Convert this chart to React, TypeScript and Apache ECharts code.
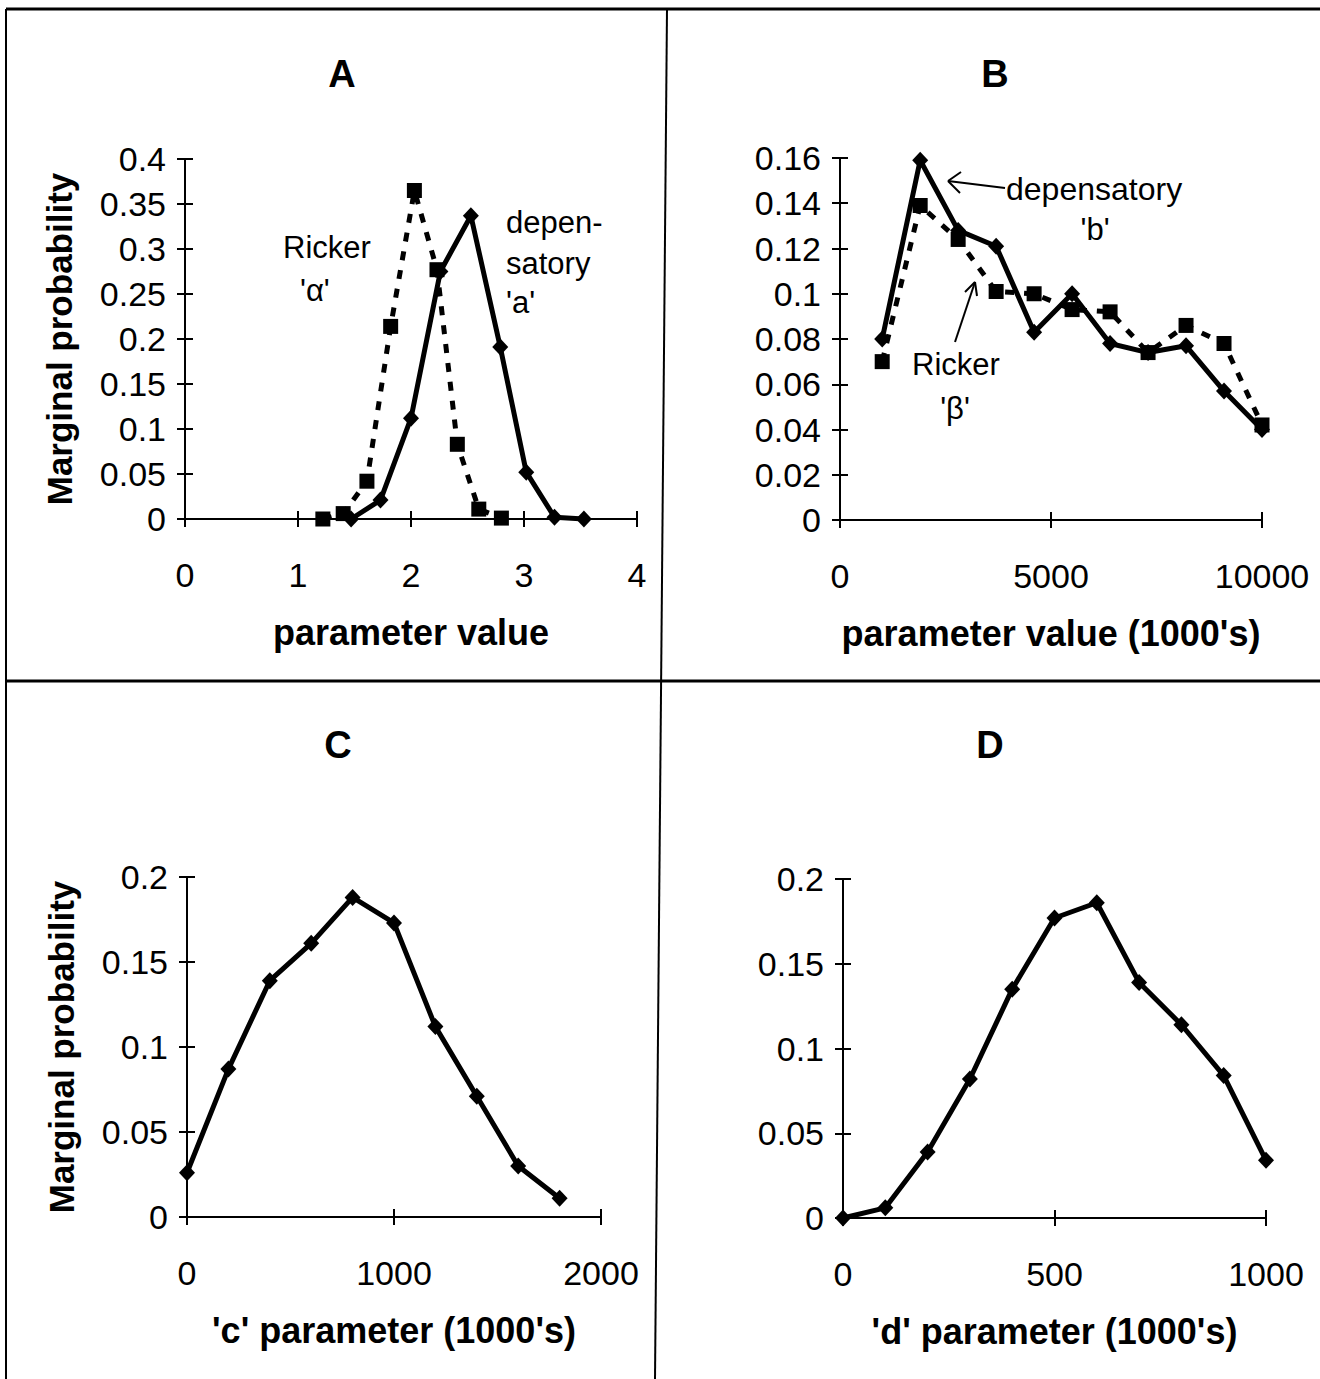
import React, { useEffect, useRef } from "react";
import * as echarts from "echarts";

// ---- data ----
const depAx = [1.47, 1.73, 2.0, 2.26, 2.53, 2.79, 3.02, 3.27, 3.53];
const depAy = [0, 0.021, 0.112, 0.275, 0.337, 0.191, 0.052, 0.002, 0];
const rickAx = [1.22, 1.4, 1.61, 1.82, 2.03, 2.23, 2.41, 2.6, 2.8];
const rickAy = [0, 0.006, 0.042, 0.214, 0.365, 0.277, 0.083, 0.011, 0.001];

const bX = [1000, 1900, 2800, 3700, 4600, 5500, 6400, 7300, 8200, 9100, 10000];
const depBy = [0.08, 0.159, 0.128, 0.121, 0.083, 0.1, 0.078, 0.074, 0.077, 0.057, 0.04];
const rickBy = [0.07, 0.139, 0.124, 0.101, 0.1, 0.093, 0.092, 0.074, 0.086, 0.078, 0.042];

const cX = [0, 200, 400, 600, 800, 1000, 1200, 1400, 1600, 1800];
const cY = [0.026, 0.087, 0.139, 0.161, 0.188, 0.173, 0.112, 0.071, 0.03, 0.011];

const dX = [0, 100, 200, 300, 400, 500, 600, 700, 800, 900, 1000];
const dY = [0, 0.006, 0.039, 0.082, 0.135, 0.177, 0.186, 0.139, 0.114, 0.084, 0.034];

const panelTitles = ["A", "B", "C", "D"];
const xNames = ["parameter value", "parameter value (1000's)", "'c' parameter (1000's)", "'d' parameter (1000's)"];
const yName = "Marginal probability";

const FONT = "'Liberation Sans', Arial, Helvetica, sans-serif";
const zip = (xs: number[], ys: number[]) => xs.map((x, i) => [x, ys[i]]);
const fmt = (v: number) => String(+v.toFixed(4));

export default function App() {
  const ref = useRef<HTMLDivElement>(null);
  useEffect(() => {
    document.body.style.margin = "0";
    const chart = echarts.init(ref.current!, null, { renderer: "svg" });

    const grids = [
      { left: 185, top: 159, width: 452, height: 360 },
      { left: 840, top: 158, width: 422, height: 362 },
      { left: 187, top: 877, width: 414, height: 340 },
      { left: 843, top: 879, width: 423, height: 339 },
    ];
    const xr = [
      [0, 4, 1],
      [0, 10000, 5000],
      [0, 2000, 1000],
      [0, 1000, 500],
    ];
    const yr = [
      [0, 0.4, 0.05],
      [0, 0.16, 0.02],
      [0, 0.2, 0.05],
      [0, 0.2, 0.05],
    ];
    const lineW = { color: "#000", width: 2 };
    const xAxes: any[] = [];
    const yAxes: any[] = [];
    grids.forEach((g, i) => {
      const baseX = {
        type: "value",
        gridIndex: i,
        min: xr[i][0],
        max: xr[i][1],
        interval: xr[i][2],
        position: "bottom",
        axisLine: { show: true, onZero: false, lineStyle: lineW },
        splitLine: { show: false },
      };
      xAxes.push({
        ...baseX,
        axisTick: { show: true, inside: false, length: 8, lineStyle: lineW },
        axisLabel: { fontSize: 34, color: "#000", fontFamily: FONT, margin: 39, formatter: fmt },
        name: xNames[i],
        nameLocation: "middle",
        nameGap: 95,
        nameTextStyle: { fontSize: 36, fontWeight: "bold", fontFamily: FONT, color: "#000" },
      });
      xAxes.push({
        ...baseX,
        axisTick: { show: true, inside: true, length: 8, lineStyle: lineW },
        axisLabel: { show: false },
      });
      const baseY = {
        type: "value",
        gridIndex: i,
        min: yr[i][0],
        max: yr[i][1],
        interval: yr[i][2],
        position: "left",
        axisLine: { show: true, onZero: false, lineStyle: lineW },
        splitLine: { show: false },
      };
      yAxes.push({
        ...baseY,
        axisTick: { show: true, inside: false, length: 8, lineStyle: lineW },
        axisLabel: { fontSize: 34, color: "#000", fontFamily: FONT, margin: 19, formatter: fmt },
        name: i % 2 === 0 ? yName : "",
        nameLocation: "middle",
        nameGap: 108,
        nameTextStyle: { fontSize: 35, fontWeight: "bold", fontFamily: FONT, color: "#000" },
      });
      yAxes.push({
        ...baseY,
        axisTick: { show: true, inside: true, length: 8, lineStyle: lineW },
        axisLabel: { show: false },
      });
    });

    const solid = (name: string, idx: number, data: number[][]) => ({
      type: "line",
      name,
      xAxisIndex: idx * 2,
      yAxisIndex: idx * 2,
      data,
      symbol: "diamond",
      symbolSize: [16, 17],
      clip: false,
      itemStyle: { color: "#000" },
      lineStyle: { color: "#000", width: 5 },
      z: 3,
    });
    const dashed = (name: string, idx: number, data: number[][]) => ({
      type: "line",
      name,
      xAxisIndex: idx * 2,
      yAxisIndex: idx * 2,
      data,
      symbol: "rect",
      symbolSize: 15,
      clip: false,
      itemStyle: { color: "#000" },
      lineStyle: { color: "#000", width: 5, type: [9, 10] },
      z: 2,
    });

    const txt = (text: string, x: number, y: number, size: number, bold: boolean, align = "left") => ({
      type: "text",
      x,
      y,
      style: {
        text,
        fontSize: size,
        fontWeight: bold ? "bold" : "normal",
        fontFamily: FONT,
        fill: "#000",
        align,
        verticalAlign: "middle",
      },
    });
    const ln = (x1: number, y1: number, x2: number, y2: number, w = 2) => ({
      type: "line",
      shape: { x1, y1, x2, y2 },
      style: { stroke: "#000", lineWidth: w },
    });

    chart.setOption({
      animation: false,
      backgroundColor: "#fff",
      grid: grids.map((g) => ({ ...g, containLabel: false, outerBoundsMode: "none" })),
      xAxis: xAxes,
      yAxis: yAxes,
      series: [
        dashed("Ricker 'α'", 0, zip(rickAx, rickAy)),
        solid("depensatory 'a'", 0, zip(depAx, depAy)),
        dashed("Ricker 'β'", 1, zip(bX, rickBy)),
        solid("depensatory 'b'", 1, zip(bX, depBy)),
        solid("'c'", 2, zip(cX, cY)),
        solid("'d'", 3, zip(dX, dY)),
      ],
      graphic: [
        // frame
        ln(6, 9, 1320, 9, 3),
        ln(6, 9, 6, 1379, 2),
        ln(667, 9, 655, 1379, 2),
        ln(6, 681, 1320, 681, 3),
        // panel letters
        txt(panelTitles[0], 342, 74, 38, true, "center"),
        txt(panelTitles[1], 995, 74, 38, true, "center"),
        txt(panelTitles[2], 338, 745, 38, true, "center"),
        txt(panelTitles[3], 990, 745, 38, true, "center"),
        // A annotations
        txt("Ricker", 283, 247, 31, false),
        txt("'α'", 300, 290, 31, false),
        txt("depen-", 506, 222, 31, false),
        txt("satory", 506, 263, 31, false),
        txt("'a'", 506, 302, 31, false),
        // B annotations
        txt("depensatory", 1006, 189, 32, false),
        txt("'b'", 1095, 229, 31, false, "center"),
        ln(1005, 188, 948, 181),
        ln(948, 181, 961, 172),
        ln(948, 181, 960, 193),
        txt("Ricker", 912, 364, 31, false),
        txt("'β'", 955, 408, 31, false, "center"),
        ln(955, 342, 975, 282),
        ln(975, 282, 965, 292),
        ln(975, 282, 977, 296),
      ],
    });
    return () => chart.dispose();
  }, []);
  return <div ref={ref} style={{ width: 1320, height: 1379 }} />;
}
